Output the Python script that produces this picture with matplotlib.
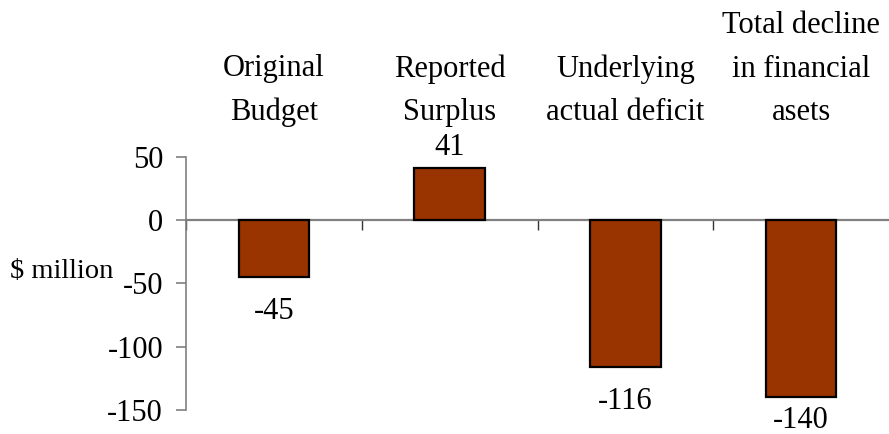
import matplotlib
matplotlib.use("Agg")
import matplotlib.pyplot as plt

plt.rcParams["font.family"] = ["Liberation Serif", "DejaVu Serif"]
plt.rcParams["axes.unicode_minus"] = False

# Budget outcome figures, $ million
categories = ["Original\nBudget", "Reported\nSurplus", "Underlying\nactual deficit",
              "Total decline\nin financial\nasets"]
values = [-45, 41, -116, -140]
# vertical offset (points) of each value label from the bar end
label_offsets = [-25, 15, -25, -17]

bar_color = "#993300"
axis_gray = "#808080"
fs = 22

fig = plt.figure(figsize=(8.89, 4.34), dpi=100)
ax = fig.add_axes([186 / 889, 1 - 410 / 434, 1 - 186 / 889, (410 - 156.5) / 434])

x = [i + 0.5 for i in range(len(values))]
ax.bar(x, values, width=0.4, color=bar_color, edgecolor="black", linewidth=1.6, zorder=3)

ax.set_xlim(0, 4)
ax.set_ylim(-150, 50)
ax.set_yticks([50, 0, -50, -100, -150])
ax.tick_params(axis="y", direction="out", length=7.5, width=1.2, color=axis_gray,
               labelsize=fs, pad=9)

# zero line doubles as the category axis
ax.spines["bottom"].set_position(("data", 0))
ax.spines["bottom"].set_color(axis_gray)
ax.spines["bottom"].set_linewidth(1.6)
ax.spines["left"].set_color(axis_gray)
ax.spines["left"].set_linewidth(1.2)
ax.spines["top"].set_visible(False)
ax.spines["right"].set_visible(False)
ax.set_xticks([0, 1, 2, 3])
ax.tick_params(axis="x", direction="out", length=7.5, width=1.0, color="#333333",
               labelbottom=False)

for xi, v, off in zip(x, values, label_offsets):
    ax.annotate(str(v), xy=(xi, v), xytext=(0, off), textcoords="offset points",
                ha="center", va="center", fontsize=fs, annotation_clip=False)

# category names above the plot
for xi, name in zip(x, categories):
    ax.annotate(name, xy=(xi, 1 - 127 / 434), xycoords=("data", "figure fraction"),
                ha="center", va="bottom", fontsize=fs, linespacing=1.65,
                annotation_clip=False)

fig.text(10 / 889, 1 - 271 / 434, "$ million", fontsize=20.5, ha="left", va="center")

fig.savefig("out.png", dpi=100)
